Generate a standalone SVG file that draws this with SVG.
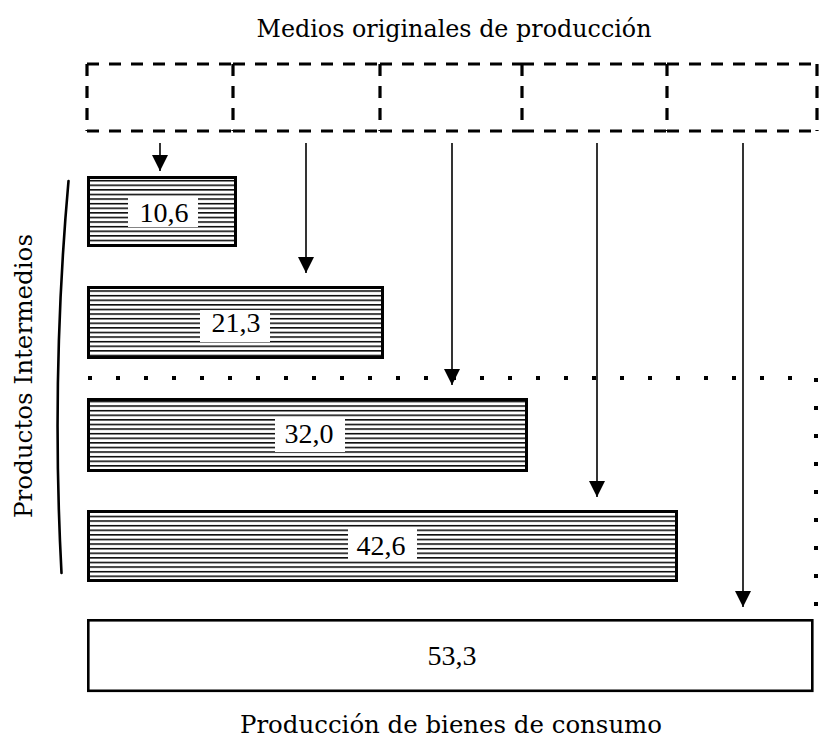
<svg xmlns="http://www.w3.org/2000/svg" width="819" height="741" viewBox="0 0 819 741">
  <style>
    .lbl { font-family: "DejaVu Serif", "Liberation Serif", serif; fill: #000; }
    .num { font-family: "Liberation Serif", "DejaVu Serif", serif; font-size: 28px; text-anchor: middle; fill: #000; }
    .dash { fill: none; stroke: #000; stroke-width: 3.2; stroke-dasharray: 12 10; }
    .bar { fill: url(#hatch); stroke: #000; stroke-width: 3; }
    .plain { fill: #fff; stroke: #000; stroke-width: 2.6; }
    .gap { fill: #fff; stroke: none; }
    .arrow { fill: none; stroke: #000; stroke-width: 1.6; marker-end: url(#arr); }
    .dots { fill: none; stroke: #000; stroke-width: 4; stroke-dasharray: 4 24; }
  </style>
  <defs>
    <pattern id="hatch" patternUnits="userSpaceOnUse" x="0" y="0.5" width="10" height="4.6">
      <rect x="0" y="0" width="10" height="4.6" fill="#fff"/>
      <rect x="0" y="0" width="10" height="1.5" fill="#000"/>
    </pattern>
    <marker id="arr" viewBox="0 0 16 16" refX="16" refY="8" markerWidth="17" markerHeight="16" orient="auto" markerUnits="userSpaceOnUse">
      <path d="M0,0 L16,8 L0,16 z" fill="#000"/>
    </marker>
  </defs>
  <rect width="819" height="741" fill="#fff"/>

  <text class="lbl" x="454" y="37" font-size="24.5" text-anchor="middle" textLength="395" lengthAdjust="spacingAndGlyphs">Medios originales de producción</text>
  <text class="lbl" x="451" y="733" font-size="24" text-anchor="middle" textLength="422" lengthAdjust="spacingAndGlyphs">Producción de bienes de consumo</text>

  <g id="label-intermedios">
    <text class="lbl" transform="translate(32,376) rotate(-90)" x="0" y="0" font-size="24.5" text-anchor="middle" textLength="284" lengthAdjust="spacingAndGlyphs">Productos Intermedios</text>
    <path d="M68.5 181 Q51 377 61.5 573" fill="none" stroke="#000" stroke-width="2.6" stroke-linecap="round"/>
  </g>

  <g id="medio-1"><path class="dash" d="M87 64 H233 M87 131 H233 M87 64 V131"/></g>
  <g id="medio-2"><path class="dash" d="M233 64 H380 M233 131 H380 M233 64 V131"/></g>
  <g id="medio-3"><path class="dash" d="M380 64 H522 M380 131 H522 M380 64 V131"/></g>
  <g id="medio-4"><path class="dash" d="M522 64 H667 M522 131 H667 M522 64 V131"/></g>
  <g id="medio-5"><path class="dash" d="M667 64 H817 M667 131 H817 M667 64 V131 M817 64 V131"/></g>

  <g id="boundary">
    <path class="dots" d="M88 378 H816 V614"/>
  </g>

  <g id="bar-10-6">
    <rect class="bar" x="88.5" y="177.5" width="147" height="68"/>
    <rect class="gap" x="128" y="196" width="70" height="31"/>
    <text class="num" x="164" y="222">10,6</text>
  </g>
  <g id="bar-21-3">
    <rect class="bar" x="88.5" y="287.5" width="294" height="70"/>
    <rect class="gap" x="200" y="310" width="70" height="32"/>
    <text class="num" x="236" y="332">21,3</text>
  </g>
  <g id="bar-32-0">
    <rect class="bar" x="88.5" y="399.5" width="438" height="71"/>
    <rect class="gap" x="275" y="418" width="70" height="34"/>
    <text class="num" x="309" y="443">32,0</text>
  </g>
  <g id="bar-42-6">
    <rect class="bar" x="88.5" y="511.5" width="588" height="69"/>
    <rect class="gap" x="348" y="528" width="69" height="33"/>
    <text class="num" x="381" y="555">42,6</text>
  </g>
  <g id="bar-53-3">
    <rect class="plain" x="88.3" y="620.3" width="724" height="70.5"/>
    <text class="num" x="452" y="665">53,3</text>
  </g>

  <g id="connectors">
    <line class="arrow" x1="160" y1="143" x2="160" y2="171"/>
    <line class="arrow" x1="306" y1="143" x2="306" y2="273"/>
    <line class="arrow" x1="452" y1="143" x2="452" y2="385"/>
    <line class="arrow" x1="597" y1="143" x2="597" y2="497"/>
    <line class="arrow" x1="743" y1="143" x2="743" y2="607"/>
  </g>
</svg>
